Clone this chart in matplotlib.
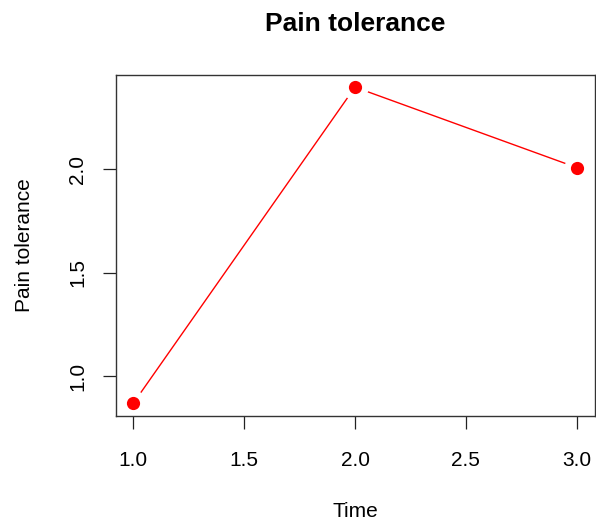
import matplotlib
matplotlib.use("Agg")
import matplotlib.pyplot as plt

plt.rcParams['font.family'] = ['Liberation Sans', 'DejaVu Sans']

# values
time = [1.0, 2.0, 3.0]
pain = [0.868, 2.397, 2.008]
x_ticks = [1.0, 1.5, 2.0, 2.5, 3.0]
y_ticks = [1.0, 1.5, 2.0]

fig = plt.figure(figsize=(5.96, 5.23), dpi=100)
ax = fig.add_axes([115.5 / 596, 1 - 416 / 523, 479 / 596, 341.5 / 523])

# R style type="b": line with gaps around the points
ax.plot(time, pain, color='red', lw=1.0, zorder=1)
ax.plot(time, pain, 'o', ms=19, color='white', mec='none', zorder=2)
ax.plot(time, pain, 'o', ms=9.5, color='red', mec='none', zorder=3)

# 4% padding like R
pad_x = (max(time) - min(time)) * 0.04
pad_y = (max(pain) - min(pain)) * 0.04
ax.set_xlim(min(time) - pad_x, max(time) + pad_x)
ax.set_ylim(min(pain) - pad_y, max(pain) + pad_y)

ax.set_xticks(x_ticks)
ax.set_xticklabels([f"{v:.1f}" for v in x_ticks])
ax.set_yticks(y_ticks)
ax.set_yticklabels([f"{v:.1f}" for v in y_ticks], rotation=90, va='center')
ax.tick_params(direction='out', length=9.5, width=0.9, labelsize=15,
               colors='#222222', labelcolor='black')
ax.tick_params(axis='x', pad=15.5)
ax.tick_params(axis='y', pad=11)
for s in ax.spines.values():
    s.set_color('#333333')
    s.set_linewidth(1.0)

ax.set_title("Pain tolerance", fontsize=19, fontweight='bold', pad=31)
ax.set_xlabel("Time", fontsize=15, labelpad=23.5)
ax.set_ylabel("Pain tolerance", fontsize=15, labelpad=24.5)

fig.savefig("out.png", dpi=100)
